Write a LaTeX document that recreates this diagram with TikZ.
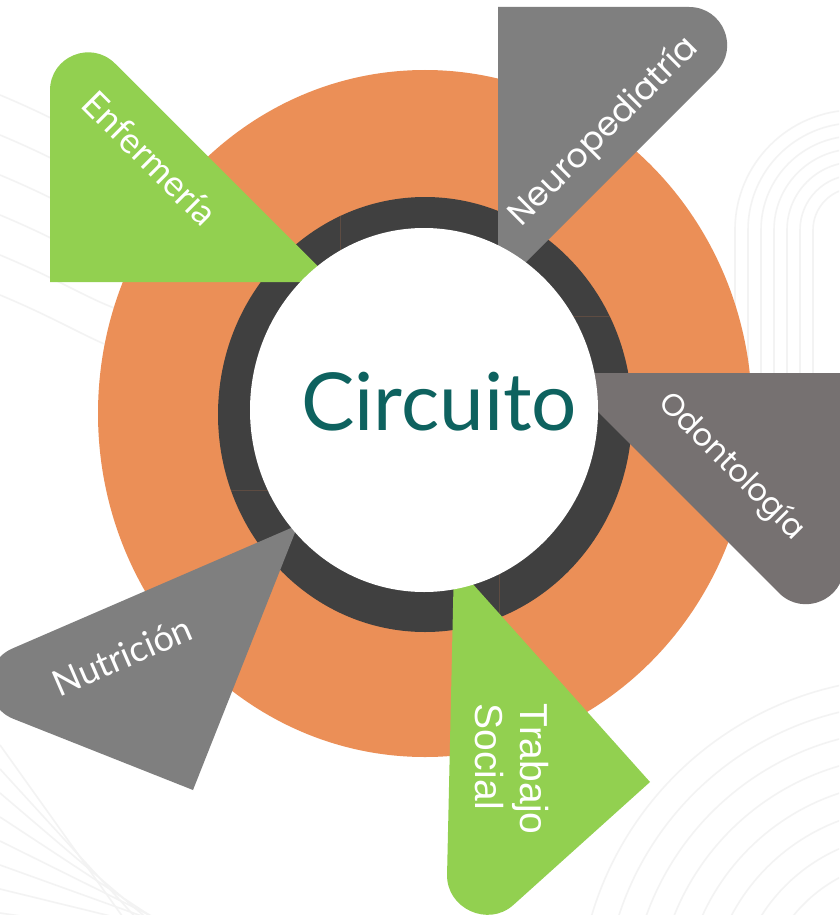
\documentclass[tikz,border=0pt]{standalone}
\usepackage{fontspec}
\newfontfamily\latofont{Lato}
\newfontfamily\popfont{Poppins}
\newfontfamily\arialfont{Liberation Sans}
\usetikzlibrary{calc}
\definecolor{orng}{HTML}{EB8F57}
\definecolor{ringdark}{HTML}{404040}
\definecolor{grn}{HTML}{92D050}
\definecolor{gry}{HTML}{7F7F7F}
\definecolor{gryodo}{HTML}{767171}
\definecolor{circteal}{HTML}{0E625F}
\definecolor{seamcol}{HTML}{5E4C42}
\definecolor{bgfaint}{HTML}{F3F3F3}
\newcommand{\roundtri}[4]{% #1 colour, #2 right-angle vertex, #3 rounded vertex, #4 hidden vertex
  \fill[#1] (#4) -- (#2) -- ($(#3)!92pt!(#2)$)
    .. controls ($(#3)!58pt!(#2)$) and ($(#3)!58pt!(#4)$) .. ($(#3)!92pt!(#4)$) -- cycle;}
\begin{document}
\begin{tikzpicture}[x=1pt,y=-1pt,
  lbl/.style={text=white, inner sep=0pt},
  seam/.style={draw=seamcol, line width=0.8pt},
  bgline/.style={draw=bgfaint, line width=1.6pt}]
\useasboundingbox (0,0) rectangle (839,915);
\fill[white] (0,0) rectangle (839,915);
% faint background pattern
\begin{scope}
  \clip (0,0) rectangle (839,915);
  \foreach \k in {0,...,6} {
    \draw[bgline] ({735+13*\k},520) -- ({735+13*\k},230)
      arc[start angle=180, end angle=0, radius={(120-13*\k)*1pt}] -- ({975-13*\k},520);
  }
  \foreach \k in {0,...,7} {
    \draw[bgline] (0,{745+24*\k}) -- ({150+20*\k},915+40);
  }
  \foreach \k in {0,...,7} {
    \draw[bgline] (910,1010) circle [radius={(150+26*\k)*1pt}];
  }
  \foreach \k in {0,...,5} {
    \draw[bgline] (0,{95+40*\k}) .. controls (60,{120+40*\k}) and (90,{140+40*\k}) .. (120,{150+40*\k});
  }
\end{scope}
% rings
\fill[orng] (425,413.5) ellipse [x radius=327pt, y radius=343.5pt];
\fill[ringdark] (425,414.5) ellipse [x radius=207pt, y radius=217.5pt];
\begin{scope}
  \clip (425,414.5) ellipse [x radius=207pt, y radius=217.5pt];
  \draw[seam] (340,190) -- (340,270);
  \draw[seam] (560,316) -- (640,316);
  \draw[seam] (499,570) -- (499,640);
  \draw[seam] (200,490) -- (280,490);
\end{scope}
% triangles
\coordinate (enfR) at (50,282);   \coordinate (enfP) at (50,-1.5);  \coordinate (enfH) at (333.5,282);
\coordinate (neuR) at (498,7);    \coordinate (neuP) at (781,7);    \coordinate (neuH) at (498,290);
\coordinate (odoR) at (844,373);  \coordinate (odoP) at (844,658);  \coordinate (odoH) at (559,373);
\coordinate (traR) at (650,782);  \coordinate (traP) at (445,966.5);\coordinate (traH) at (454,563);
\coordinate (nutR) at (193,790);  \coordinate (nutP) at (-72,685);  \coordinate (nutH) at (298,525);
\roundtri{grn}{enfR}{enfP}{enfH}
\roundtri{gry}{neuR}{neuP}{neuH}
\roundtri{gryodo}{odoR}{odoP}{odoH}
\roundtri{grn}{traR}{traP}{traH}
\roundtri{gry}{nutR}{nutP}{nutH}
% centre
\fill[white] (424,410) ellipse [x radius=174pt, y radius=182pt];
\node[inner sep=0pt, text=circteal, font=\latofont\fontsize{80}{80}\selectfont] (circ) at (439,402) {Circuito};
% labels
\node[lbl, rotate=-45, font=\latofont\fontsize{36}{40}\selectfont] (enf) at (150,158) {Enfermería};
\node[lbl, rotate=45, font=\popfont\fontsize{33.5}{38}\selectfont] (neu) at (604,132) {Neuropediatría};
\node[lbl, rotate=-45, font=\popfont\fontsize{31}{35}\selectfont] (odo) at (731,467) {Odontología};
\node[lbl, rotate=-90, align=left, font=\arialfont\fontsize{39}{45}\selectfont] (tra) at (512,769) {Trabajo\\Social};
\node[lbl, rotate=23.4, font=\latofont\fontsize{36}{40}\selectfont] (nut) at (122,656) {Nutrición};
\end{tikzpicture}
\end{document}
